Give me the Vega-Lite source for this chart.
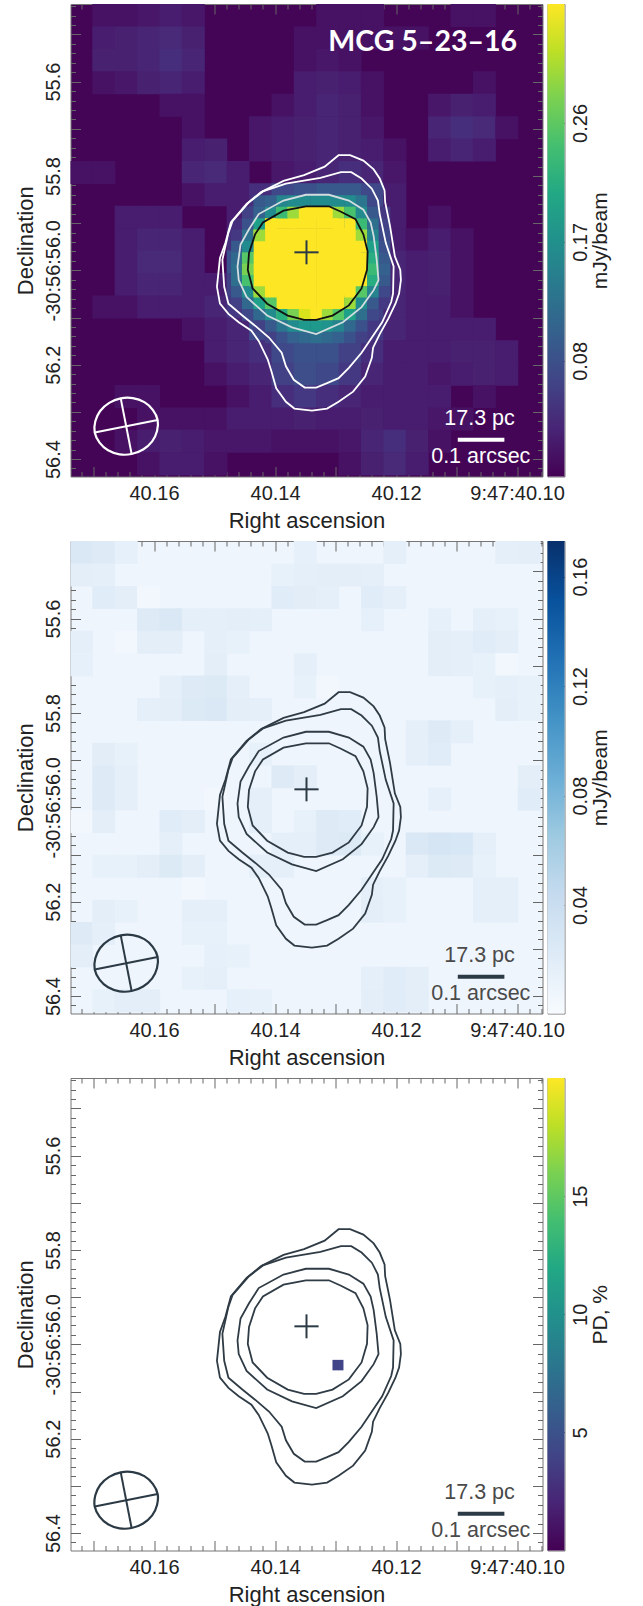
{"$schema":"https://vega.github.io/schema/vega-lite/v6.json","padding":{"left":13.5,"top":3,"right":0,"bottom":0},"background":"white",
"config":{"axis":{"labelFont":"Liberation Sans","titleFont":"Liberation Sans","labelFontSize":20,"titleFontSize":22,"labelColor":"#222","titleColor":"#222","titleFontWeight":"normal","grid":false,"domain":false,"tickColor":"#666","tickWidth":1,"zindex":1}},
"datasets":{
"contours":[
{"c":"c1","x":40.1295,"y":55.7559},{"c":"c1","x":40.1276,"y":55.7559},{"c":"c1","x":40.1254,"y":55.7674},{"c":"c1","x":40.1237,"y":55.7861},{"c":"c1","x":40.1227,"y":55.8054},{"c":"c1","x":40.1219,"y":55.8305},{"c":"c1","x":40.1218,"y":55.8556},{"c":"c1","x":40.121,"y":55.9058},{"c":"c1","x":40.1202,"y":55.9703},{"c":"c1","x":40.1193,"y":55.999},{"c":"c1","x":40.1192,"y":56.0205},{"c":"c1","x":40.1195,"y":56.0492},{"c":"c1","x":40.1201,"y":56.0707},{"c":"c1","x":40.1213,"y":56.103},{"c":"c1","x":40.1227,"y":56.1352},{"c":"c1","x":40.1238,"y":56.1639},{"c":"c1","x":40.124,"y":56.1854},{"c":"c1","x":40.1251,"y":56.2249},{"c":"c1","x":40.1271,"y":56.2571},{"c":"c1","x":40.1295,"y":56.2786},{"c":"c1","x":40.1314,"y":56.293},{"c":"c1","x":40.1339,"y":56.2973},{"c":"c1","x":40.1368,"y":56.293},{"c":"c1","x":40.1382,"y":56.2786},{"c":"c1","x":40.1398,"y":56.25},{"c":"c1","x":40.1406,"y":56.2141},{"c":"c1","x":40.1412,"y":56.189},{"c":"c1","x":40.1427,"y":56.1496},{"c":"c1","x":40.1439,"y":56.1281},{"c":"c1","x":40.146,"y":56.1101},{"c":"c1","x":40.1477,"y":56.0922},{"c":"c1","x":40.1491,"y":56.0707},{"c":"c1","x":40.1496,"y":56.0349},{"c":"c1","x":40.1491,"y":55.9739},{"c":"c1","x":40.1482,"y":55.9417},{"c":"c1","x":40.1473,"y":55.8986},{"c":"c1","x":40.1447,"y":55.8592},{"c":"c1","x":40.1423,"y":55.8341},{"c":"c1","x":40.1386,"y":55.8104},{"c":"c1","x":40.1352,"y":55.7983},{"c":"c1","x":40.1318,"y":55.7803},
{"c":"c2","x":40.1291,"y":55.7918},{"c":"c2","x":40.1274,"y":55.7918},{"c":"c2","x":40.1257,"y":55.8054},{"c":"c2","x":40.124,"y":55.8269},{"c":"c2","x":40.123,"y":55.852},{"c":"c2","x":40.1227,"y":55.8807},{"c":"c2","x":40.1217,"y":55.9417},{"c":"c2","x":40.1204,"y":55.9918},{"c":"c2","x":40.1205,"y":56.0492},{"c":"c2","x":40.1208,"y":56.0671},{"c":"c2","x":40.1223,"y":56.1101},{"c":"c2","x":40.124,"y":56.1424},{"c":"c2","x":40.1257,"y":56.1747},{"c":"c2","x":40.1278,"y":56.2069},{"c":"c2","x":40.1295,"y":56.2285},{"c":"c2","x":40.1314,"y":56.2392},{"c":"c2","x":40.1332,"y":56.2485},{"c":"c2","x":40.1351,"y":56.2485},{"c":"c2","x":40.1369,"y":56.232},{"c":"c2","x":40.1382,"y":56.2034},{"c":"c2","x":40.1389,"y":56.1747},{"c":"c2","x":40.141,"y":56.1424},{"c":"c2","x":40.1433,"y":56.1173},{"c":"c2","x":40.1454,"y":56.0958},{"c":"c2","x":40.1477,"y":56.0707},{"c":"c2","x":40.1484,"y":56.0349},{"c":"c2","x":40.1487,"y":55.9775},{"c":"c2","x":40.1477,"y":55.9201},{"c":"c2","x":40.147,"y":55.895},{"c":"c2","x":40.1443,"y":55.8556},{"c":"c2","x":40.142,"y":55.8327},{"c":"c2","x":40.1382,"y":55.8162},{"c":"c2","x":40.1325,"y":55.804},
{"c":"c3","x":40.1349,"y":55.8398},{"c":"c3","x":40.1311,"y":55.8398},{"c":"c3","x":40.1278,"y":55.852},{"c":"c3","x":40.1254,"y":55.8714},{"c":"c3","x":40.1242,"y":55.8986},{"c":"c3","x":40.1237,"y":55.9273},{"c":"c3","x":40.1232,"y":55.9775},{"c":"c3","x":40.1229,"y":56.0205},{"c":"c3","x":40.1237,"y":56.042},{"c":"c3","x":40.1257,"y":56.0779},{"c":"c3","x":40.1288,"y":56.1101},{"c":"c3","x":40.1332,"y":56.1352},{"c":"c3","x":40.1372,"y":56.1209},{"c":"c3","x":40.1413,"y":56.0958},{"c":"c3","x":40.1447,"y":56.0564},{"c":"c3","x":40.146,"y":56.0205},{"c":"c3","x":40.1462,"y":55.9918},{"c":"c3","x":40.1457,"y":55.9452},{"c":"c3","x":40.1443,"y":55.913},{"c":"c3","x":40.1427,"y":55.8807},{"c":"c3","x":40.1386,"y":55.852},
{"c":"c4","x":40.1349,"y":55.8642},{"c":"c4","x":40.1311,"y":55.8642},{"c":"c4","x":40.1291,"y":55.8757},{"c":"c4","x":40.1267,"y":55.8915},{"c":"c4","x":40.1254,"y":55.9237},{"c":"c4","x":40.1247,"y":55.9596},{"c":"c4","x":40.1248,"y":55.999},{"c":"c4","x":40.1257,"y":56.0384},{"c":"c4","x":40.1278,"y":56.0743},{"c":"c4","x":40.1305,"y":56.0958},{"c":"c4","x":40.1332,"y":56.1051},{"c":"c4","x":40.1352,"y":56.1051},{"c":"c4","x":40.1379,"y":56.0958},{"c":"c4","x":40.1413,"y":56.0707},{"c":"c4","x":40.1437,"y":56.0384},{"c":"c4","x":40.1445,"y":55.999},{"c":"c4","x":40.1443,"y":55.9632},{"c":"c4","x":40.1433,"y":55.9237},{"c":"c4","x":40.142,"y":55.8986},{"c":"c4","x":40.1386,"y":55.8735}],
"beam":[{"x":40.1594,"y":56.3171},{"x":40.1595,"y":56.3407},{"x":40.1603,"y":56.3627},{"x":40.1618,"y":56.3798},{"x":40.1637,"y":56.3894},{"x":40.1657,"y":56.39},{"x":40.1676,"y":56.3815},{"x":40.169,"y":56.3652},{"x":40.1698,"y":56.3437},{"x":40.1697,"y":56.3201},{"x":40.1689,"y":56.2981},{"x":40.1674,"y":56.281},{"x":40.1655,"y":56.2714},{"x":40.1635,"y":56.2708},{"x":40.1616,"y":56.2793},{"x":40.1602,"y":56.2956}],
"beamAxes":[{"x":40.1594,"x2":40.1698,"y":56.3171,"y2":56.3437},{"x":40.1637,"x2":40.1655,"y":56.3894,"y2":56.2714}],
"cross":[{"x":40.1368,"x2":40.1328,"y":55.9618,"y2":55.9618},{"x":40.1348,"x2":40.1348,"y":55.9364,"y2":55.9872}],
"bar":[{"x":40.1098,"x2":40.1021,"y":56.359,"y2":56.359}],
"scaleText":[{"x":40.1062,"y":56.3156,"t":"17.3 pc"},{"x":40.106,"y":56.3962,"t":"0.1 arcsec"}],
"mid1":[
{"x":40.1683,"y":55.46,"v":0.02},{"x":40.1646,"y":55.46,"v":0.02},{"x":40.1609,"y":55.46,"v":0.025},{"x":40.1572,"y":55.46,"v":0.03},{"x":40.1535,"y":55.46,"v":0.025},{"x":40.1313,"y":55.46,"v":0.02},{"x":40.1276,"y":55.46,"v":0.02},{"x":40.1239,"y":55.46,"v":0.02},{"x":40.1091,"y":55.46,"v":0.02},{"x":40.1054,"y":55.46,"v":0.02},
{"x":40.1683,"y":55.5075,"v":0.03},{"x":40.1646,"y":55.5075,"v":0.035},{"x":40.1609,"y":55.5075,"v":0.04},{"x":40.1572,"y":55.5075,"v":0.045},{"x":40.1535,"y":55.5075,"v":0.035},{"x":40.135,"y":55.5075,"v":0.02},{"x":40.1313,"y":55.5075,"v":0.02},{"x":40.1276,"y":55.5075,"v":0.02},{"x":40.1239,"y":55.5075,"v":0.02},{"x":40.1202,"y":55.5075,"v":0.02},{"x":40.1165,"y":55.5075,"v":0.02},
{"x":40.1683,"y":55.555,"v":0.035},{"x":40.1646,"y":55.555,"v":0.035},{"x":40.1609,"y":55.555,"v":0.04},{"x":40.1572,"y":55.555,"v":0.05},{"x":40.1535,"y":55.555,"v":0.04},{"x":40.135,"y":55.555,"v":0.02},{"x":40.1313,"y":55.555,"v":0.025},{"x":40.1276,"y":55.555,"v":0.02},
{"x":40.1683,"y":55.6025,"v":0.02},{"x":40.1646,"y":55.6025,"v":0.025},{"x":40.1609,"y":55.6025,"v":0.035},{"x":40.1572,"y":55.6025,"v":0.04},{"x":40.1535,"y":55.6025,"v":0.03},{"x":40.135,"y":55.6025,"v":0.03},{"x":40.1313,"y":55.6025,"v":0.035},{"x":40.1276,"y":55.6025,"v":0.03},{"x":40.1239,"y":55.6025,"v":0.02},{"x":40.1054,"y":55.6025,"v":0.02},
{"x":40.1572,"y":55.65,"v":0.02},{"x":40.1535,"y":55.65,"v":0.02},{"x":40.1387,"y":55.65,"v":0.02},{"x":40.135,"y":55.65,"v":0.03},{"x":40.1313,"y":55.65,"v":0.04},{"x":40.1276,"y":55.65,"v":0.035},{"x":40.1239,"y":55.65,"v":0.02},{"x":40.1128,"y":55.65,"v":0.025},{"x":40.1091,"y":55.65,"v":0.035},{"x":40.1054,"y":55.65,"v":0.03},
{"x":40.1535,"y":55.6975,"v":0.02},{"x":40.1424,"y":55.6975,"v":0.025},{"x":40.1387,"y":55.6975,"v":0.03},{"x":40.135,"y":55.6975,"v":0.035},{"x":40.1313,"y":55.6975,"v":0.04},{"x":40.1276,"y":55.6975,"v":0.035},{"x":40.1239,"y":55.6975,"v":0.025},{"x":40.1128,"y":55.6975,"v":0.04},{"x":40.1091,"y":55.6975,"v":0.05},{"x":40.1054,"y":55.6975,"v":0.045},{"x":40.1017,"y":55.6975,"v":0.02},
{"x":40.1535,"y":55.745,"v":0.03},{"x":40.1498,"y":55.745,"v":0.035},{"x":40.1424,"y":55.745,"v":0.025},{"x":40.1387,"y":55.745,"v":0.03},{"x":40.135,"y":55.745,"v":0.035},{"x":40.1313,"y":55.745,"v":0.04},{"x":40.1276,"y":55.745,"v":0.035},{"x":40.1239,"y":55.745,"v":0.03},{"x":40.1202,"y":55.745,"v":0.02},{"x":40.1128,"y":55.745,"v":0.03},{"x":40.1091,"y":55.745,"v":0.04},{"x":40.1054,"y":55.745,"v":0.03},
{"x":40.172,"y":55.7925,"v":0.02},{"x":40.1683,"y":55.7925,"v":0.02},{"x":40.1535,"y":55.7925,"v":0.04},{"x":40.1498,"y":55.7925,"v":0.045},{"x":40.1461,"y":55.7925,"v":0.03},{"x":40.1387,"y":55.7925,"v":0.025},{"x":40.135,"y":55.7925,"v":0.03},{"x":40.1313,"y":55.7925,"v":0.04},{"x":40.1276,"y":55.7925,"v":0.05},{"x":40.1239,"y":55.7925,"v":0.04},{"x":40.1202,"y":55.7925,"v":0.025},
{"x":40.1535,"y":55.84,"v":0.02},{"x":40.1498,"y":55.84,"v":0.03},{"x":40.1461,"y":55.84,"v":0.03},{"x":40.1424,"y":55.84,"v":0.05},{"x":40.1387,"y":55.84,"v":0.08},{"x":40.135,"y":55.84,"v":0.09},{"x":40.1313,"y":55.84,"v":0.1},{"x":40.1276,"y":55.84,"v":0.1},{"x":40.1239,"y":55.84,"v":0.08},{"x":40.1202,"y":55.84,"v":0.03},
{"x":40.1646,"y":55.8875,"v":0.03},{"x":40.1609,"y":55.8875,"v":0.03},{"x":40.1572,"y":55.8875,"v":0.03},{"x":40.1461,"y":55.8875,"v":0.03},{"x":40.1424,"y":55.8875,"v":0.07},{"x":40.1387,"y":55.8875,"v":0.35},{"x":40.135,"y":55.8875,"v":0.35},{"x":40.1313,"y":55.8875,"v":0.35},{"x":40.1276,"y":55.8875,"v":0.13},{"x":40.1239,"y":55.8875,"v":0.07},{"x":40.1202,"y":55.8875,"v":0.03},{"x":40.1128,"y":55.8875,"v":0.02},
{"x":40.1646,"y":55.935,"v":0.03},{"x":40.1609,"y":55.935,"v":0.04},{"x":40.1572,"y":55.935,"v":0.04},{"x":40.1535,"y":55.935,"v":0.03},{"x":40.1461,"y":55.935,"v":0.05},{"x":40.1424,"y":55.935,"v":0.35},{"x":40.1387,"y":55.935,"v":0.35},{"x":40.135,"y":55.935,"v":0.35},{"x":40.1313,"y":55.935,"v":0.35},{"x":40.1276,"y":55.935,"v":0.35},{"x":40.1239,"y":55.935,"v":0.09},{"x":40.1202,"y":55.935,"v":0.03},{"x":40.1165,"y":55.935,"v":0.02},{"x":40.1128,"y":55.935,"v":0.03},{"x":40.1091,"y":55.935,"v":0.02},
{"x":40.1646,"y":55.9825,"v":0.03},{"x":40.1609,"y":55.9825,"v":0.045},{"x":40.1572,"y":55.9825,"v":0.045},{"x":40.1535,"y":55.9825,"v":0.03},{"x":40.1461,"y":55.9825,"v":0.09},{"x":40.1424,"y":55.9825,"v":0.35},{"x":40.1387,"y":55.9825,"v":0.35},{"x":40.135,"y":55.9825,"v":0.35},{"x":40.1313,"y":55.9825,"v":0.35},{"x":40.1276,"y":55.9825,"v":0.35},{"x":40.1239,"y":55.9825,"v":0.1},{"x":40.1202,"y":55.9825,"v":0.04},{"x":40.1165,"y":55.9825,"v":0.03},{"x":40.1128,"y":55.9825,"v":0.035},{"x":40.1091,"y":55.9825,"v":0.02},
{"x":40.1646,"y":56.03,"v":0.03},{"x":40.1609,"y":56.03,"v":0.04},{"x":40.1572,"y":56.03,"v":0.04},{"x":40.1535,"y":56.03,"v":0.03},{"x":40.1498,"y":56.03,"v":0.03},{"x":40.1461,"y":56.03,"v":0.07},{"x":40.1424,"y":56.03,"v":0.35},{"x":40.1387,"y":56.03,"v":0.35},{"x":40.135,"y":56.03,"v":0.35},{"x":40.1313,"y":56.03,"v":0.35},{"x":40.1276,"y":56.03,"v":0.35},{"x":40.1239,"y":56.03,"v":0.09},{"x":40.1202,"y":56.03,"v":0.04},{"x":40.1165,"y":56.03,"v":0.03},{"x":40.1128,"y":56.03,"v":0.035},{"x":40.1091,"y":56.03,"v":0.02},
{"x":40.1683,"y":56.0775,"v":0.02},{"x":40.1646,"y":56.0775,"v":0.02},{"x":40.1609,"y":56.0775,"v":0.03},{"x":40.1572,"y":56.0775,"v":0.03},{"x":40.1535,"y":56.0775,"v":0.03},{"x":40.1498,"y":56.0775,"v":0.04},{"x":40.1461,"y":56.0775,"v":0.06},{"x":40.1424,"y":56.0775,"v":0.12},{"x":40.1387,"y":56.0775,"v":0.35},{"x":40.135,"y":56.0775,"v":0.35},{"x":40.1313,"y":56.0775,"v":0.35},{"x":40.1276,"y":56.0775,"v":0.15},{"x":40.1239,"y":56.0775,"v":0.07},{"x":40.1202,"y":56.0775,"v":0.04},{"x":40.1165,"y":56.0775,"v":0.03},{"x":40.1128,"y":56.0775,"v":0.03},{"x":40.1091,"y":56.0775,"v":0.02},
{"x":40.1535,"y":56.125,"v":0.02},{"x":40.1498,"y":56.125,"v":0.03},{"x":40.1461,"y":56.125,"v":0.04},{"x":40.1424,"y":56.125,"v":0.08},{"x":40.1387,"y":56.125,"v":0.1},{"x":40.135,"y":56.125,"v":0.11},{"x":40.1313,"y":56.125,"v":0.11},{"x":40.1276,"y":56.125,"v":0.09},{"x":40.1239,"y":56.125,"v":0.06},{"x":40.1202,"y":56.125,"v":0.04},{"x":40.1165,"y":56.125,"v":0.03},{"x":40.1128,"y":56.125,"v":0.03},{"x":40.1091,"y":56.125,"v":0.03},{"x":40.1054,"y":56.125,"v":0.03},
{"x":40.1498,"y":56.1725,"v":0.03},{"x":40.1461,"y":56.1725,"v":0.04},{"x":40.1424,"y":56.1725,"v":0.05},{"x":40.1387,"y":56.1725,"v":0.08},{"x":40.135,"y":56.1725,"v":0.09},{"x":40.1313,"y":56.1725,"v":0.09},{"x":40.1276,"y":56.1725,"v":0.07},{"x":40.1239,"y":56.1725,"v":0.05},{"x":40.1202,"y":56.1725,"v":0.03},{"x":40.1165,"y":56.1725,"v":0.03},{"x":40.1128,"y":56.1725,"v":0.03},{"x":40.1091,"y":56.1725,"v":0.035},{"x":40.1054,"y":56.1725,"v":0.035},{"x":40.1017,"y":56.1725,"v":0.03},
{"x":40.1498,"y":56.22,"v":0.02},{"x":40.1461,"y":56.22,"v":0.03},{"x":40.1424,"y":56.22,"v":0.04},{"x":40.1387,"y":56.22,"v":0.07},{"x":40.135,"y":56.22,"v":0.085},{"x":40.1313,"y":56.22,"v":0.08},{"x":40.1276,"y":56.22,"v":0.06},{"x":40.1239,"y":56.22,"v":0.04},{"x":40.1202,"y":56.22,"v":0.03},{"x":40.1165,"y":56.22,"v":0.03},{"x":40.1128,"y":56.22,"v":0.025},{"x":40.1091,"y":56.22,"v":0.03},{"x":40.1054,"y":56.22,"v":0.035},{"x":40.1017,"y":56.22,"v":0.03},
{"x":40.1646,"y":56.2675,"v":0.02},{"x":40.1609,"y":56.2675,"v":0.02},{"x":40.1461,"y":56.2675,"v":0.02},{"x":40.1424,"y":56.2675,"v":0.03},{"x":40.1387,"y":56.2675,"v":0.05},{"x":40.135,"y":56.2675,"v":0.06},{"x":40.1313,"y":56.2675,"v":0.05},{"x":40.1276,"y":56.2675,"v":0.04},{"x":40.1239,"y":56.2675,"v":0.03},{"x":40.1202,"y":56.2675,"v":0.03},{"x":40.1165,"y":56.2675,"v":0.03},{"x":40.1128,"y":56.2675,"v":0.03},{"x":40.1054,"y":56.2675,"v":0.02},
{"x":40.1609,"y":56.315,"v":0.02},{"x":40.1572,"y":56.315,"v":0.02},{"x":40.1535,"y":56.315,"v":0.02},{"x":40.1498,"y":56.315,"v":0.02},{"x":40.1461,"y":56.315,"v":0.03},{"x":40.1424,"y":56.315,"v":0.03},{"x":40.1387,"y":56.315,"v":0.03},{"x":40.135,"y":56.315,"v":0.035},{"x":40.1313,"y":56.315,"v":0.03},{"x":40.1276,"y":56.315,"v":0.03},{"x":40.1239,"y":56.315,"v":0.035},{"x":40.1202,"y":56.315,"v":0.03},{"x":40.1165,"y":56.315,"v":0.03},{"x":40.1128,"y":56.315,"v":0.025},{"x":40.1091,"y":56.315,"v":0.02},
{"x":40.1646,"y":56.3625,"v":0.02},{"x":40.1609,"y":56.3625,"v":0.03},{"x":40.1572,"y":56.3625,"v":0.035},{"x":40.1535,"y":56.3625,"v":0.03},{"x":40.1498,"y":56.3625,"v":0.025},{"x":40.1461,"y":56.3625,"v":0.025},{"x":40.1424,"y":56.3625,"v":0.025},{"x":40.1387,"y":56.3625,"v":0.02},{"x":40.135,"y":56.3625,"v":0.02},{"x":40.1313,"y":56.3625,"v":0.02},{"x":40.1276,"y":56.3625,"v":0.025},{"x":40.1239,"y":56.3625,"v":0.04},{"x":40.1202,"y":56.3625,"v":0.05},{"x":40.1165,"y":56.3625,"v":0.035},{"x":40.1128,"y":56.3625,"v":0.02},
{"x":40.1609,"y":56.41,"v":0.02},{"x":40.1572,"y":56.41,"v":0.03},{"x":40.1535,"y":56.41,"v":0.03},{"x":40.1498,"y":56.41,"v":0.02},{"x":40.1276,"y":56.41,"v":0.02},{"x":40.1239,"y":56.41,"v":0.035},{"x":40.1202,"y":56.41,"v":0.045},{"x":40.1165,"y":56.41,"v":0.03}],
"fine1":[
{"x":40.1426,"y":55.8532,"v":0.1},{"x":40.1407,"y":55.8532,"v":0.11},{"x":40.1388,"y":55.8532,"v":0.16},{"x":40.137,"y":55.8532,"v":0.17},{"x":40.1351,"y":55.8532,"v":0.17},{"x":40.1332,"y":55.8532,"v":0.17},{"x":40.1313,"y":55.8532,"v":0.17},{"x":40.1295,"y":55.8532,"v":0.17},{"x":40.1276,"y":55.8532,"v":0.17},{"x":40.1257,"y":55.8532,"v":0.14},{"x":40.1238,"y":55.8532,"v":0.08},
{"x":40.1445,"y":55.8778,"v":0.07},{"x":40.1426,"y":55.8778,"v":0.11},{"x":40.1407,"y":55.8778,"v":0.17},{"x":40.1388,"y":55.8778,"v":0.24},{"x":40.137,"y":55.8778,"v":0.3},{"x":40.1351,"y":55.8778,"v":0.35},{"x":40.1332,"y":55.8778,"v":0.35},{"x":40.1313,"y":55.8778,"v":0.35},{"x":40.1295,"y":55.8778,"v":0.3},{"x":40.1276,"y":55.8778,"v":0.25},{"x":40.1257,"y":55.8778,"v":0.17},{"x":40.1238,"y":55.8778,"v":0.1},{"x":40.1219,"y":55.8778,"v":0.06},
{"x":40.1463,"y":55.902,"v":0.05},{"x":40.1445,"y":55.902,"v":0.09},{"x":40.1426,"y":55.902,"v":0.2},{"x":40.1407,"y":55.902,"v":0.35},{"x":40.1295,"y":55.902,"v":0.35},{"x":40.1276,"y":55.902,"v":0.35},{"x":40.1257,"y":55.902,"v":0.24},{"x":40.1238,"y":55.902,"v":0.13},{"x":40.1219,"y":55.902,"v":0.07},
{"x":40.1463,"y":55.926,"v":0.06},{"x":40.1445,"y":55.926,"v":0.13},{"x":40.1426,"y":55.926,"v":0.3},{"x":40.1257,"y":55.926,"v":0.3},{"x":40.1238,"y":55.926,"v":0.16},{"x":40.1219,"y":55.926,"v":0.08},
{"x":40.1463,"y":55.9499,"v":0.1},{"x":40.1445,"y":55.9499,"v":0.17},{"x":40.1257,"y":55.9499,"v":0.35},{"x":40.1238,"y":55.9499,"v":0.2},{"x":40.1219,"y":55.9499,"v":0.09},
{"x":40.1463,"y":55.9741,"v":0.12},{"x":40.1445,"y":55.9741,"v":0.26},{"x":40.1257,"y":55.9741,"v":0.35},{"x":40.1238,"y":55.9741,"v":0.22},{"x":40.1219,"y":55.9741,"v":0.1},
{"x":40.1463,"y":55.9981,"v":0.13},{"x":40.1445,"y":55.9981,"v":0.28},{"x":40.1257,"y":55.9981,"v":0.35},{"x":40.1238,"y":55.9981,"v":0.24},{"x":40.1219,"y":55.9981,"v":0.11},
{"x":40.1463,"y":56.022,"v":0.13},{"x":40.1445,"y":56.022,"v":0.25},{"x":40.1257,"y":56.022,"v":0.35},{"x":40.1238,"y":56.022,"v":0.22},{"x":40.1219,"y":56.022,"v":0.1},
{"x":40.1463,"y":56.0462,"v":0.1},{"x":40.1445,"y":56.0462,"v":0.17},{"x":40.1426,"y":56.0462,"v":0.3},{"x":40.1407,"y":56.0462,"v":0.35},{"x":40.1295,"y":56.0462,"v":0.35},{"x":40.1276,"y":56.0462,"v":0.35},{"x":40.1257,"y":56.0462,"v":0.26},{"x":40.1238,"y":56.0462,"v":0.16},{"x":40.1219,"y":56.0462,"v":0.08},
{"x":40.1463,"y":56.0702,"v":0.07},{"x":40.1445,"y":56.0702,"v":0.12},{"x":40.1426,"y":56.0702,"v":0.2},{"x":40.1407,"y":56.0702,"v":0.26},{"x":40.1295,"y":56.0702,"v":0.35},{"x":40.1276,"y":56.0702,"v":0.3},{"x":40.1257,"y":56.0702,"v":0.17},{"x":40.1238,"y":56.0702,"v":0.1},{"x":40.1219,"y":56.0702,"v":0.06},
{"x":40.1445,"y":56.0942,"v":0.08},{"x":40.1426,"y":56.0942,"v":0.12},{"x":40.1407,"y":56.0942,"v":0.17},{"x":40.1388,"y":56.0942,"v":0.22},{"x":40.137,"y":56.0942,"v":0.28},{"x":40.1351,"y":56.0942,"v":0.33},{"x":40.1332,"y":56.0942,"v":0.35},{"x":40.1313,"y":56.0942,"v":0.3},{"x":40.1295,"y":56.0942,"v":0.26},{"x":40.1276,"y":56.0942,"v":0.2},{"x":40.1257,"y":56.0942,"v":0.13},{"x":40.1238,"y":56.0942,"v":0.08},
{"x":40.1426,"y":56.1183,"v":0.07},{"x":40.1407,"y":56.1183,"v":0.1},{"x":40.1388,"y":56.1183,"v":0.14},{"x":40.137,"y":56.1183,"v":0.17},{"x":40.1351,"y":56.1183,"v":0.19},{"x":40.1332,"y":56.1183,"v":0.19},{"x":40.1313,"y":56.1183,"v":0.18},{"x":40.1295,"y":56.1183,"v":0.16},{"x":40.1276,"y":56.1183,"v":0.12},{"x":40.1257,"y":56.1183,"v":0.09},
{"x":40.1407,"y":56.1423,"v":0.07},{"x":40.1388,"y":56.1423,"v":0.09},{"x":40.137,"y":56.1423,"v":0.11},{"x":40.1351,"y":56.1423,"v":0.12},{"x":40.1332,"y":56.1423,"v":0.13},{"x":40.1313,"y":56.1423,"v":0.12},{"x":40.1295,"y":56.1423,"v":0.11},{"x":40.1276,"y":56.1423,"v":0.09},{"x":40.1257,"y":56.1423,"v":0.07}],
"mid2":[
{"x":40.172,"y":55.46,"v":0.026},{"x":40.1683,"y":55.46,"v":0.022},{"x":40.1646,"y":55.46,"v":0.015},{"x":40.135,"y":55.46,"v":0.015},{"x":40.1202,"y":55.46,"v":0.016},{"x":40.098,"y":55.46,"v":0.018},{"x":40.1017,"y":55.46,"v":0.016},
{"x":40.172,"y":55.5075,"v":0.018},{"x":40.1683,"y":55.5075,"v":0.016},{"x":40.1387,"y":55.5075,"v":0.014},{"x":40.135,"y":55.5075,"v":0.016},{"x":40.1313,"y":55.5075,"v":0.018},{"x":40.1276,"y":55.5075,"v":0.018},{"x":40.1239,"y":55.5075,"v":0.016},
{"x":40.1683,"y":55.555,"v":0.02},{"x":40.1646,"y":55.555,"v":0.018},{"x":40.1609,"y":55.555,"v":0.006},{"x":40.1387,"y":55.555,"v":0.02},{"x":40.135,"y":55.555,"v":0.019},{"x":40.1313,"y":55.555,"v":0.016},{"x":40.1239,"y":55.555,"v":0.02},{"x":40.1202,"y":55.555,"v":0.016},
{"x":40.1609,"y":55.6025,"v":0.022},{"x":40.1572,"y":55.6025,"v":0.026},{"x":40.1535,"y":55.6025,"v":0.017},{"x":40.1498,"y":55.6025,"v":0.016},{"x":40.1461,"y":55.6025,"v":0.018},{"x":40.1424,"y":55.6025,"v":0.016},{"x":40.1239,"y":55.6025,"v":0.015},{"x":40.1128,"y":55.6025,"v":0.015},{"x":40.1054,"y":55.6025,"v":0.016},{"x":40.1017,"y":55.6025,"v":0.014},
{"x":40.172,"y":55.65,"v":0.016},{"x":40.1646,"y":55.65,"v":0.006},{"x":40.1609,"y":55.65,"v":0.018},{"x":40.1572,"y":55.65,"v":0.018},{"x":40.1498,"y":55.65,"v":0.016},{"x":40.1461,"y":55.65,"v":0.014},{"x":40.1128,"y":55.65,"v":0.018},{"x":40.1091,"y":55.65,"v":0.016},{"x":40.1054,"y":55.65,"v":0.02},{"x":40.1017,"y":55.65,"v":0.018},
{"x":40.172,"y":55.6975,"v":0.015},{"x":40.1498,"y":55.6975,"v":0.018},{"x":40.135,"y":55.6975,"v":0.016},{"x":40.1128,"y":55.6975,"v":0.018},{"x":40.1091,"y":55.6975,"v":0.016},{"x":40.1054,"y":55.6975,"v":0.014},{"x":40.1017,"y":55.6975,"v":0.006},
{"x":40.1572,"y":55.745,"v":0.016},{"x":40.1535,"y":55.745,"v":0.022},{"x":40.1498,"y":55.745,"v":0.024},{"x":40.1461,"y":55.745,"v":0.016},{"x":40.135,"y":55.745,"v":0.014},{"x":40.1313,"y":55.745,"v":0.006},{"x":40.1054,"y":55.745,"v":0.014},{"x":40.1017,"y":55.745,"v":0.016},{"x":40.098,"y":55.745,"v":0.014},
{"x":40.1609,"y":55.7925,"v":0.016},{"x":40.1572,"y":55.7925,"v":0.018},{"x":40.1535,"y":55.7925,"v":0.024},{"x":40.1498,"y":55.7925,"v":0.026},{"x":40.1461,"y":55.7925,"v":0.018},{"x":40.1424,"y":55.7925,"v":0.016},{"x":40.1017,"y":55.7925,"v":0.018},{"x":40.098,"y":55.7925,"v":0.014},
{"x":40.1165,"y":55.84,"v":0.016},{"x":40.1128,"y":55.84,"v":0.022},{"x":40.1091,"y":55.84,"v":0.016},
{"x":40.1683,"y":55.8875,"v":0.019},{"x":40.1646,"y":55.8875,"v":0.014},{"x":40.1424,"y":55.8875,"v":0.014},{"x":40.1165,"y":55.8875,"v":0.016},{"x":40.1128,"y":55.8875,"v":0.02},
{"x":40.1683,"y":55.935,"v":0.022},{"x":40.1646,"y":55.935,"v":0.016},{"x":40.1387,"y":55.935,"v":0.022},{"x":40.135,"y":55.935,"v":0.018},{"x":40.098,"y":55.935,"v":0.018},
{"x":40.1683,"y":55.9825,"v":0.022},{"x":40.1646,"y":55.9825,"v":0.016},{"x":40.1498,"y":55.9825,"v":0.006},{"x":40.1424,"y":55.9825,"v":0.016},{"x":40.1128,"y":55.9825,"v":0.015},{"x":40.098,"y":55.9825,"v":0.02},
{"x":40.172,"y":56.03,"v":0.006},{"x":40.1683,"y":56.03,"v":0.018},{"x":40.1572,"y":56.03,"v":0.02},{"x":40.1535,"y":56.03,"v":0.018},{"x":40.1424,"y":56.03,"v":0.016},{"x":40.135,"y":56.03,"v":0.014},{"x":40.1313,"y":56.03,"v":0.022},{"x":40.1276,"y":56.03,"v":0.02},
{"x":40.1572,"y":56.0775,"v":0.016},{"x":40.1387,"y":56.0775,"v":0.016},{"x":40.135,"y":56.0775,"v":0.016},{"x":40.1313,"y":56.0775,"v":0.022},{"x":40.1276,"y":56.0775,"v":0.024},{"x":40.1239,"y":56.0775,"v":0.014},{"x":40.1165,"y":56.0775,"v":0.026},{"x":40.1128,"y":56.0775,"v":0.03},{"x":40.1091,"y":56.0775,"v":0.028},{"x":40.1054,"y":56.0775,"v":0.016},
{"x":40.1683,"y":56.125,"v":0.014},{"x":40.1646,"y":56.125,"v":0.014},{"x":40.1609,"y":56.125,"v":0.018},{"x":40.1572,"y":56.125,"v":0.024},{"x":40.1535,"y":56.125,"v":0.018},{"x":40.1424,"y":56.125,"v":0.016},{"x":40.1387,"y":56.125,"v":0.016},{"x":40.1165,"y":56.125,"v":0.016},{"x":40.1128,"y":56.125,"v":0.024},{"x":40.1091,"y":56.125,"v":0.022},{"x":40.1054,"y":56.125,"v":0.014},
{"x":40.1535,"y":56.1725,"v":0.006},{"x":40.1239,"y":56.1725,"v":0.016},{"x":40.1202,"y":56.1725,"v":0.014},{"x":40.1054,"y":56.1725,"v":0.016},{"x":40.1017,"y":56.1725,"v":0.016},
{"x":40.1683,"y":56.22,"v":0.018},{"x":40.1646,"y":56.22,"v":0.014},{"x":40.1535,"y":56.22,"v":0.016},{"x":40.1498,"y":56.22,"v":0.016},{"x":40.1239,"y":56.22,"v":0.018},{"x":40.1202,"y":56.22,"v":0.014},{"x":40.1054,"y":56.22,"v":0.017},{"x":40.1017,"y":56.22,"v":0.016},
{"x":40.172,"y":56.2675,"v":0.022},{"x":40.1683,"y":56.2675,"v":0.016},{"x":40.1535,"y":56.2675,"v":0.014},{"x":40.1498,"y":56.2675,"v":0.014},
{"x":40.172,"y":56.315,"v":0.018},{"x":40.1498,"y":56.315,"v":0.015},{"x":40.1461,"y":56.315,"v":0.014},
{"x":40.1535,"y":56.3625,"v":0.014},{"x":40.1498,"y":56.3625,"v":0.016},{"x":40.1239,"y":56.3625,"v":0.016},{"x":40.1202,"y":56.3625,"v":0.02},{"x":40.1165,"y":56.3625,"v":0.018},
{"x":40.1683,"y":56.41,"v":0.014},{"x":40.1646,"y":56.41,"v":0.018},{"x":40.1609,"y":56.41,"v":0.018},{"x":40.1461,"y":56.41,"v":0.015},{"x":40.1424,"y":56.41,"v":0.014},{"x":40.1239,"y":56.41,"v":0.018},{"x":40.1202,"y":56.41,"v":0.02},{"x":40.1165,"y":56.41,"v":0.018}]
},
"concat":[
{"width":472,"height":472.5,"view":{"fill":"#440556","stroke":"#777"},
"encoding":{"x":{"field":"x","type":"quantitative","scale":{"domain":[40.1738,40.0958],"nice":false,"zero":false},"axis":null},"y":{"field":"y","type":"quantitative","scale":{"domain":[56.437,55.4354],"nice":false,"zero":false},"axis":null}},
"resolve":{"axis":{"x":"independent","y":"independent"}},
"layer":[
{"data":{"name":"mid1"},"mark":{"type":"rect","width":23,"height":23,"clip":true},"encoding":{"fill":{"field":"v","type":"quantitative","scale":{"domain":[0.005,0.35],"scheme":"viridis"},"legend":null},
"x":{"field":"x","type":"quantitative","scale":{"domain":[40.1738,40.0958],"nice":false,"zero":false},"title":"Right ascension","axis":{"orient":"bottom","values":[40.16,40.14,40.12,40.1],"ticks":false,"labelPadding":7,"titlePadding":7,"labelExpr":"datum.value==40.1?'9:47:40.10':format(datum.value,'.2f')"}},
"y":{"field":"y","type":"quantitative","scale":{"domain":[56.437,55.4354],"nice":false,"zero":false},"title":"Declination","axis":{"orient":"left","values":[55.6,55.8,56,56.2,56.4],"ticks":false,"labelAngle":-90,"labelAlign":"center","labelBaseline":"bottom","labelPadding":7,"titlePadding":6,"labelExpr":"datum.value==56?'-30:56:56.0':format(datum.value,'.1f')"}}}},
{"data":{"name":"fine1"},"mark":{"type":"rect","width":11.7,"height":11.7,"clip":true},"encoding":{"fill":{"field":"v","type":"quantitative","scale":{"domain":[0.005,0.35],"scheme":"viridis"},"legend":null}}},
{"data":{"name":"contours"},"mark":{"type":"line","interpolate":"linear-closed","strokeWidth":1.8},"encoding":{"stroke":{"field":"c","type":"nominal","scale":{"domain":["c1","c2","c3","c4"],"range":["#ffffff","#ffffff","#d3dde0","#111111"]},"legend":null},"order":{"value":null},
"x":{"field":"x","type":"quantitative","scale":{"domain":[40.1738,40.0958],"nice":false,"zero":false},"title":null,"axis":{"orient":"top","offset":-472.5,"labels":false,"tickCount":40,"tickSize":{"condition":{"test":"abs(datum.value*100-round(datum.value*100))<0.001","value":10},"value":5}}},
"y":{"field":"y","type":"quantitative","scale":{"domain":[56.437,55.4354],"nice":false,"zero":false},"title":null,"axis":{"orient":"right","offset":-472,"labels":false,"tickCount":50,"tickSize":{"condition":{"test":"abs(datum.value*10-round(datum.value*10))<0.001","value":10},"value":5}}}}},
{"data":{"name":"beam"},"mark":{"type":"line","interpolate":"cardinal-closed","strokeWidth":2.2,"stroke":"#ffffff"},"encoding":{"order":{"value":null},
"x":{"field":"x","type":"quantitative","scale":{"domain":[40.1738,40.0958],"nice":false,"zero":false},"title":null,"axis":{"orient":"bottom","offset":-472.5,"labels":false,"tickCount":40,"tickSize":{"condition":{"test":"abs(datum.value*100-round(datum.value*100))<0.001","value":10},"value":5}}},
"y":{"field":"y","type":"quantitative","scale":{"domain":[56.437,55.4354],"nice":false,"zero":false},"title":null,"axis":{"orient":"left","offset":-472,"labels":false,"tickCount":50,"tickSize":{"condition":{"test":"abs(datum.value*10-round(datum.value*10))<0.001","value":10},"value":5}}}}},
{"data":{"name":"beamAxes"},"mark":{"type":"rule","strokeWidth":2,"stroke":"#ffffff"},"encoding":{"x2":{"field":"x2"},"y2":{"field":"y2"}}},
{"data":{"name":"cross"},"mark":{"type":"rule","strokeWidth":2,"stroke":"#2b3a45"},"encoding":{"x2":{"field":"x2"},"y2":{"field":"y2"}}},
{"data":{"name":"bar"},"mark":{"type":"rule","strokeWidth":4,"stroke":"#ffffff"},"encoding":{"x2":{"field":"x2"},"y2":{"field":"y2"}}},
{"data":{"name":"scaleText"},"mark":{"type":"text","font":"Liberation Sans","fontSize":21.5,"fill":"#ffffff","align":"center","baseline":"middle"},"encoding":{"text":{"field":"t"}}},
{"data":{"values":[{"x":40.1156,"y":55.516,"t":"MCG 5–23–16"}]},"mark":{"type":"text","font":"Lato","fontWeight":"bold","fontSize":28.5,"fill":"#ffffff","align":"center","baseline":"middle"},"encoding":{"text":{"field":"t"}}}
]},
{"width":17,"height":472.5,"view":{"stroke":"#777"},"data":{"values":[{"a":0,"b":1,"lo":-0.0075,"hi":0.35}]},
"encoding":{"x":{"field":"a","type":"quantitative","scale":{"domain":[0,1]},"axis":null},"x2":{"field":"b"},"y":{"field":"lo","type":"quantitative","scale":{"domain":[-0.0075,0.35],"nice":false,"zero":false},"axis":null},"y2":{"field":"hi"}},
"resolve":{"axis":{"y":"independent"}},
"layer":[
{"mark":{"type":"rect","fill":{"gradient":"linear","x1":0,"y1":1,"x2":0,"y2":0,"stops":[{"offset":0,"color":"#440154"},{"offset":0.1,"color":"#482475"},{"offset":0.2,"color":"#414487"},{"offset":0.3,"color":"#355f8d"},{"offset":0.4,"color":"#2a788e"},{"offset":0.5,"color":"#21918c"},{"offset":0.6,"color":"#22a884"},{"offset":0.7,"color":"#44bf70"},{"offset":0.8,"color":"#7ad151"},{"offset":0.9,"color":"#bddf26"},{"offset":1,"color":"#fde725"}]}},
"encoding":{"y":{"field":"lo","type":"quantitative","scale":{"domain":[-0.0075,0.35],"nice":false,"zero":false},"title":"mJy/beam","axis":{"orient":"right","values":[0.08,0.17,0.26],"format":".2f","ticks":false,"labelAngle":-90,"labelAlign":"center","labelBaseline":"top","labelPadding":6,"titleAngle":-90,"titlePadding":20,"titleFontSize":21}}}},
{"mark":{"type":"rect","opacity":0},"encoding":{"y":{"field":"lo","type":"quantitative","scale":{"domain":[-0.0075,0.35],"nice":false,"zero":false},"title":null,"axis":{"orient":"left","offset":-17,"values":[0.08,0.17,0.26],"labels":false,"tickSize":5}}}}
]},
{"width":472,"height":472.5,"view":{"fill":"#eff5fc","stroke":"#777"},
"encoding":{"x":{"field":"x","type":"quantitative","scale":{"domain":[40.1738,40.0958],"nice":false,"zero":false},"axis":null},"y":{"field":"y","type":"quantitative","scale":{"domain":[56.437,55.4354],"nice":false,"zero":false},"axis":null}},
"resolve":{"axis":{"x":"independent","y":"independent"}},
"layer":[
{"data":{"name":"mid2"},"mark":{"type":"rect","width":23,"height":23,"clip":true},"encoding":{"fill":{"field":"v","type":"quantitative","scale":{"domain":[0.0004,0.022,0.0435,0.0651,0.0867,0.1083,0.1298,0.1514,0.173],"range":["#f7fbff","#deebf7","#c6dbef","#9ecae1","#6baed6","#4292c6","#2171b5","#08519c","#08306b"]},"legend":null},
"x":{"field":"x","type":"quantitative","scale":{"domain":[40.1738,40.0958],"nice":false,"zero":false},"title":"Right ascension","axis":{"orient":"bottom","values":[40.16,40.14,40.12,40.1],"ticks":false,"labelPadding":7,"titlePadding":7,"labelExpr":"datum.value==40.1?'9:47:40.10':format(datum.value,'.2f')"}},
"y":{"field":"y","type":"quantitative","scale":{"domain":[56.437,55.4354],"nice":false,"zero":false},"title":"Declination","axis":{"orient":"left","values":[55.6,55.8,56,56.2,56.4],"ticks":false,"labelAngle":-90,"labelAlign":"center","labelBaseline":"bottom","labelPadding":7,"titlePadding":6,"labelExpr":"datum.value==56?'-30:56:56.0':format(datum.value,'.1f')"}}}},
{"data":{"name":"contours"},"mark":{"type":"line","interpolate":"linear-closed","strokeWidth":1.8,"stroke":"#2f3b45"},"encoding":{"detail":{"field":"c"},"order":{"value":null},
"x":{"field":"x","type":"quantitative","scale":{"domain":[40.1738,40.0958],"nice":false,"zero":false},"title":null,"axis":{"orient":"top","offset":-472.5,"labels":false,"tickCount":40,"tickSize":{"condition":{"test":"abs(datum.value*100-round(datum.value*100))<0.001","value":10},"value":5}}},
"y":{"field":"y","type":"quantitative","scale":{"domain":[56.437,55.4354],"nice":false,"zero":false},"title":null,"axis":{"orient":"right","offset":-472,"labels":false,"tickCount":50,"tickSize":{"condition":{"test":"abs(datum.value*10-round(datum.value*10))<0.001","value":10},"value":5}}}}},
{"data":{"name":"beam"},"mark":{"type":"line","interpolate":"cardinal-closed","strokeWidth":2.2,"stroke":"#2b3a45"},"encoding":{"order":{"value":null},
"x":{"field":"x","type":"quantitative","scale":{"domain":[40.1738,40.0958],"nice":false,"zero":false},"title":null,"axis":{"orient":"bottom","offset":-472.5,"labels":false,"tickCount":40,"tickSize":{"condition":{"test":"abs(datum.value*100-round(datum.value*100))<0.001","value":10},"value":5}}},
"y":{"field":"y","type":"quantitative","scale":{"domain":[56.437,55.4354],"nice":false,"zero":false},"title":null,"axis":{"orient":"left","offset":-472,"labels":false,"tickCount":50,"tickSize":{"condition":{"test":"abs(datum.value*10-round(datum.value*10))<0.001","value":10},"value":5}}}}},
{"data":{"name":"beamAxes"},"mark":{"type":"rule","strokeWidth":2,"stroke":"#2b3a45"},"encoding":{"x2":{"field":"x2"},"y2":{"field":"y2"}}},
{"data":{"name":"cross"},"mark":{"type":"rule","strokeWidth":2,"stroke":"#2b3a45"},"encoding":{"x2":{"field":"x2"},"y2":{"field":"y2"}}},
{"data":{"name":"bar"},"mark":{"type":"rule","strokeWidth":4,"stroke":"#2b3a45"},"encoding":{"x2":{"field":"x2"},"y2":{"field":"y2"}}},
{"data":{"name":"scaleText"},"mark":{"type":"text","font":"Liberation Sans","fontSize":21.5,"fill":"#4a4a4a","align":"center","baseline":"middle"},"encoding":{"text":{"field":"t"}}}
]},
{"width":17,"height":472.5,"view":{"stroke":"#777"},"data":{"values":[{"a":0,"b":1,"lo":0.0004,"hi":0.173}]},
"encoding":{"x":{"field":"a","type":"quantitative","scale":{"domain":[0,1]},"axis":null},"x2":{"field":"b"},"y":{"field":"lo","type":"quantitative","scale":{"domain":[0.0004,0.173],"nice":false,"zero":false},"axis":null},"y2":{"field":"hi"}},
"resolve":{"axis":{"y":"independent"}},
"layer":[
{"mark":{"type":"rect","fill":{"gradient":"linear","x1":0,"y1":1,"x2":0,"y2":0,"stops":[{"offset":0,"color":"#f7fbff"},{"offset":0.125,"color":"#deebf7"},{"offset":0.25,"color":"#c6dbef"},{"offset":0.375,"color":"#9ecae1"},{"offset":0.5,"color":"#6baed6"},{"offset":0.625,"color":"#4292c6"},{"offset":0.75,"color":"#2171b5"},{"offset":0.875,"color":"#08519c"},{"offset":1,"color":"#08306b"}]}},
"encoding":{"y":{"field":"lo","type":"quantitative","scale":{"domain":[0.0004,0.173],"nice":false,"zero":false},"title":"mJy/beam","axis":{"orient":"right","values":[0.04,0.08,0.12,0.16],"format":".2f","ticks":false,"labelAngle":-90,"labelAlign":"center","labelBaseline":"top","labelPadding":6,"titleAngle":-90,"titlePadding":20,"titleFontSize":21}}}},
{"mark":{"type":"rect","opacity":0},"encoding":{"y":{"field":"lo","type":"quantitative","scale":{"domain":[0.0004,0.173],"nice":false,"zero":false},"title":null,"axis":{"orient":"left","offset":-17,"values":[0.04,0.08,0.12,0.16],"labels":false,"tickSize":5}}}}
]},
{"width":472,"height":472.5,"view":{"fill":"#ffffff","stroke":"#777"},
"encoding":{"x":{"field":"x","type":"quantitative","scale":{"domain":[40.1738,40.0958],"nice":false,"zero":false},"axis":null},"y":{"field":"y","type":"quantitative","scale":{"domain":[56.437,55.4354],"nice":false,"zero":false},"axis":null}},
"resolve":{"axis":{"x":"independent","y":"independent"}},
"layer":[
{"data":{"values":[{"x":40.1296,"y":56.044,"v":4}]},"mark":{"type":"rect","width":11,"height":10.5,"clip":true},"encoding":{"fill":{"field":"v","type":"quantitative","scale":{"domain":[0,20],"scheme":"viridis"},"legend":null},
"x":{"field":"x","type":"quantitative","scale":{"domain":[40.1738,40.0958],"nice":false,"zero":false},"title":"Right ascension","axis":{"orient":"bottom","values":[40.16,40.14,40.12,40.1],"ticks":false,"labelPadding":7,"titlePadding":7,"labelExpr":"datum.value==40.1?'9:47:40.10':format(datum.value,'.2f')"}},
"y":{"field":"y","type":"quantitative","scale":{"domain":[56.437,55.4354],"nice":false,"zero":false},"title":"Declination","axis":{"orient":"left","values":[55.6,55.8,56,56.2,56.4],"ticks":false,"labelAngle":-90,"labelAlign":"center","labelBaseline":"bottom","labelPadding":7,"titlePadding":6,"labelExpr":"datum.value==56?'-30:56:56.0':format(datum.value,'.1f')"}}}},
{"data":{"name":"contours"},"mark":{"type":"line","interpolate":"linear-closed","strokeWidth":1.8,"stroke":"#2f3b45"},"encoding":{"detail":{"field":"c"},"order":{"value":null},
"x":{"field":"x","type":"quantitative","scale":{"domain":[40.1738,40.0958],"nice":false,"zero":false},"title":null,"axis":{"orient":"top","offset":-472.5,"labels":false,"tickCount":40,"tickSize":{"condition":{"test":"abs(datum.value*100-round(datum.value*100))<0.001","value":10},"value":5}}},
"y":{"field":"y","type":"quantitative","scale":{"domain":[56.437,55.4354],"nice":false,"zero":false},"title":null,"axis":{"orient":"right","offset":-472,"labels":false,"tickCount":50,"tickSize":{"condition":{"test":"abs(datum.value*10-round(datum.value*10))<0.001","value":10},"value":5}}}}},
{"data":{"name":"beam"},"mark":{"type":"line","interpolate":"cardinal-closed","strokeWidth":2.2,"stroke":"#2b3a45"},"encoding":{"order":{"value":null},
"x":{"field":"x","type":"quantitative","scale":{"domain":[40.1738,40.0958],"nice":false,"zero":false},"title":null,"axis":{"orient":"bottom","offset":-472.5,"labels":false,"tickCount":40,"tickSize":{"condition":{"test":"abs(datum.value*100-round(datum.value*100))<0.001","value":10},"value":5}}},
"y":{"field":"y","type":"quantitative","scale":{"domain":[56.437,55.4354],"nice":false,"zero":false},"title":null,"axis":{"orient":"left","offset":-472,"labels":false,"tickCount":50,"tickSize":{"condition":{"test":"abs(datum.value*10-round(datum.value*10))<0.001","value":10},"value":5}}}}},
{"data":{"name":"beamAxes"},"mark":{"type":"rule","strokeWidth":2,"stroke":"#2b3a45"},"encoding":{"x2":{"field":"x2"},"y2":{"field":"y2"}}},
{"data":{"name":"cross"},"mark":{"type":"rule","strokeWidth":2,"stroke":"#2b3a45"},"encoding":{"x2":{"field":"x2"},"y2":{"field":"y2"}}},
{"data":{"name":"bar"},"mark":{"type":"rule","strokeWidth":4,"stroke":"#2b3a45"},"encoding":{"x2":{"field":"x2"},"y2":{"field":"y2"}}},
{"data":{"name":"scaleText"},"mark":{"type":"text","font":"Liberation Sans","fontSize":21.5,"fill":"#4a4a4a","align":"center","baseline":"middle"},"encoding":{"text":{"field":"t"}}}
]},
{"width":17,"height":472.5,"view":{"stroke":"#777"},"data":{"values":[{"a":0,"b":1,"lo":0,"hi":20}]},
"encoding":{"x":{"field":"a","type":"quantitative","scale":{"domain":[0,1]},"axis":null},"x2":{"field":"b"},"y":{"field":"lo","type":"quantitative","scale":{"domain":[0,20],"nice":false,"zero":false},"axis":null},"y2":{"field":"hi"}},
"resolve":{"axis":{"y":"independent"}},
"layer":[
{"mark":{"type":"rect","fill":{"gradient":"linear","x1":0,"y1":1,"x2":0,"y2":0,"stops":[{"offset":0,"color":"#440154"},{"offset":0.1,"color":"#482475"},{"offset":0.2,"color":"#414487"},{"offset":0.3,"color":"#355f8d"},{"offset":0.4,"color":"#2a788e"},{"offset":0.5,"color":"#21918c"},{"offset":0.6,"color":"#22a884"},{"offset":0.7,"color":"#44bf70"},{"offset":0.8,"color":"#7ad151"},{"offset":0.9,"color":"#bddf26"},{"offset":1,"color":"#fde725"}]}},
"encoding":{"y":{"field":"lo","type":"quantitative","scale":{"domain":[0,20],"nice":false,"zero":false},"title":"PD, %","axis":{"orient":"right","values":[5,10,15],"ticks":false,"labelAngle":-90,"labelAlign":"center","labelBaseline":"top","labelPadding":6,"titleAngle":-90,"titlePadding":20,"titleFontSize":21}}}},
{"mark":{"type":"rect","opacity":0},"encoding":{"y":{"field":"lo","type":"quantitative","scale":{"domain":[0,20],"nice":false,"zero":false},"title":null,"axis":{"orient":"left","offset":-17,"values":[5,10,15],"labels":false,"tickSize":5}}}}
]}
],
"columns":2,"spacing":{"column":5,"row":64},"bounds":"flush","align":"each","resolve":{"scale":{"fill":"independent","stroke":"independent"}}}
